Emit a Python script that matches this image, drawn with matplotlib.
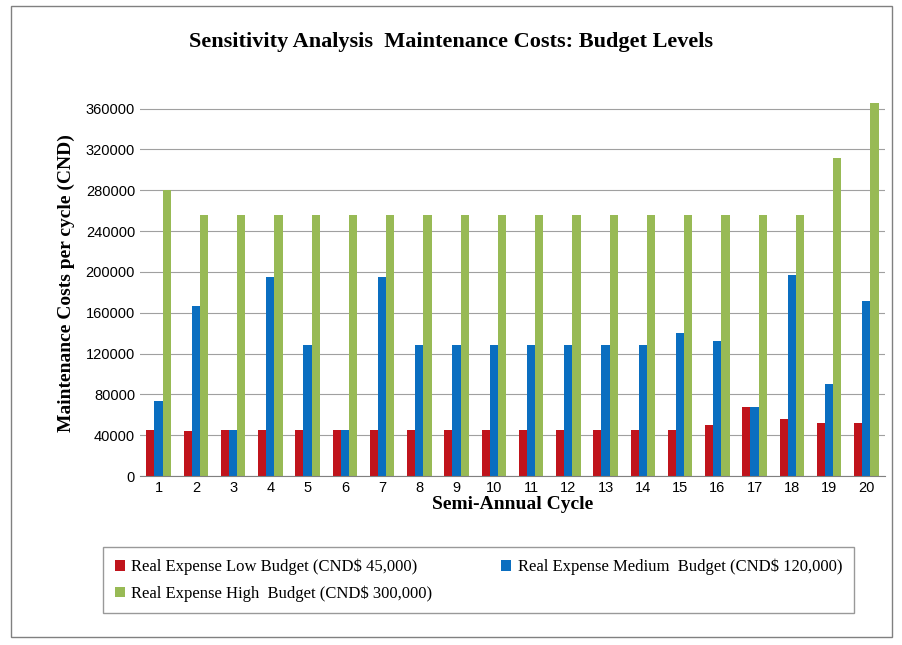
import numpy as np
import matplotlib.pyplot as plt
from matplotlib.patches import Rectangle

cycles = [str(i) for i in range(1, 21)]
low = [45000, 44000, 45000, 45000, 45000, 45000, 45000, 45000, 45000, 45000,
       45000, 45000, 45000, 45000, 45000, 50000, 68000, 56000, 52000, 52000]
medium = [74000, 167000, 45000, 195000, 128000, 45000, 195000, 128000, 128000, 128000,
          128000, 128000, 128000, 128000, 140000, 132000, 68000, 197000, 90000, 172000]
high = [280000, 256000, 256000, 256000, 256000, 256000, 256000, 256000, 256000, 256000,
        256000, 256000, 256000, 256000, 256000, 256000, 256000, 256000, 312000, 366000]
labels = ['Real Expense Low Budget (CND$ 45,000)',
          'Real Expense Medium  Budget (CND$ 120,000)',
          'Real Expense High  Budget (CND$ 300,000)']

fig = plt.figure(figsize=(9.03, 6.45), dpi=100)
fig.patches.append(Rectangle((0.012, 0.012), 0.976, 0.978, transform=fig.transFigure,
                             fill=False, edgecolor='#808080', lw=1))
ax = fig.add_axes([0.155, 0.262, 0.825, 0.598])

x = np.arange(len(cycles))
w = 0.22
b1 = ax.bar(x - w, low, w, color='#C0141C')
b2 = ax.bar(x, medium, w, color='#0A6EC0')
b3 = ax.bar(x + w, high, w, color='#98BA55')

ax.set_xlim(-0.5, 19.5)
ax.set_ylim(0, 378000)
ax.set_yticks(range(0, 360001, 40000))
ax.set_xticks(x)
ax.set_xticklabels(cycles)
ax.tick_params(labelsize=10.5, length=0)
for t in ax.get_xticklabels() + ax.get_yticklabels():
    t.set_fontfamily('Liberation Sans')
ax.yaxis.grid(True, color='#A0A0A0', lw=0.8)
ax.set_axisbelow(True)
for s in ['top', 'right', 'left']:
    ax.spines[s].set_visible(False)
ax.spines['bottom'].set_color('#808080')

ax.set_xlabel('Semi-Annual Cycle', fontfamily='Liberation Serif', fontsize=14,
              fontweight='bold', labelpad=1)
ax.set_ylabel('Maintenance Costs per cycle (CND)', fontfamily='Liberation Serif',
              fontsize=14, fontweight='bold', labelpad=8)
fig.text(0.5, 0.935, 'Sensitivity Analysis  Maintenance Costs: Budget Levels',
         ha='center', va='center', fontfamily='Liberation Serif', fontsize=16,
         fontweight='bold')

# column-major fill: low, high in col 1; medium in col 2
fig.legend([b1, b3, b2], [labels[0], labels[2], labels[1]], ncol=2,
           loc='lower left', bbox_to_anchor=(0.105, 0.036, 0.85, 0.1),
           bbox_transform=fig.transFigure, mode='expand',
           prop={'family': 'Liberation Serif', 'size': 12},
           frameon=True, fancybox=False, edgecolor='#808080',
           handlelength=0.6, handleheight=0.6, handletextpad=0.4,
           borderpad=0.7, labelspacing=0.6)
fig.savefig('out.png', dpi=100)
